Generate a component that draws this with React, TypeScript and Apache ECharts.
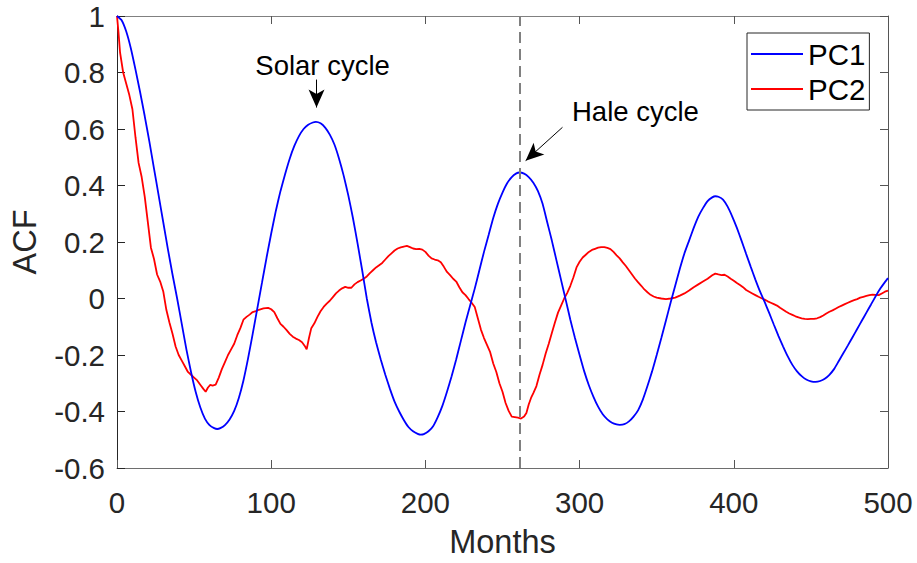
import React, { useEffect, useRef } from "react";
import * as echarts from "echarts";

const pc1Months = [
  0, 3, 6, 9, 12, 15, 18, 21, 24, 27, 30, 33, 36, 39, 42, 45, 48, 51, 54, 57, 60, 63, 65, 67, 70,
  73, 76, 79, 82, 85, 88, 91, 94, 97, 100, 103, 106, 109, 112, 115, 118, 121, 124, 127, 129, 132,
  135, 138, 141, 144, 147, 150, 153, 156, 159, 162, 165, 168, 171, 174, 177, 180, 183, 186, 189,
  192, 195, 197, 199, 202, 205, 208, 211, 214, 217, 220, 223, 226, 229, 232, 235, 238, 241, 244,
  247, 250, 253, 256, 259, 261, 264, 267, 270, 273, 276, 279, 282, 285, 288, 291, 294, 297, 300,
  303, 306, 309, 312, 315, 318, 321, 324, 326, 329, 332, 335, 338, 341, 344, 347, 350, 353, 356,
  359, 362, 365, 368, 371, 374, 377, 380, 383, 386, 388, 390, 393, 396, 399, 402, 405, 408, 411,
  414, 417, 420, 423, 426, 429, 432, 435, 438, 441, 444, 447, 450, 453, 456, 459, 462, 465, 468,
  471, 474, 477, 480, 483, 486, 489, 492, 495, 498, 500,
];
const pc1Values = [
  1.0, 0.985, 0.945, 0.885, 0.81, 0.73, 0.645, 0.555, 0.46, 0.365, 0.27, 0.175, 0.085, 0.0, -0.09,
  -0.18, -0.26, -0.33, -0.385, -0.425, -0.448, -0.459, -0.462, -0.459, -0.448, -0.428, -0.398,
  -0.352, -0.29, -0.212, -0.125, -0.035, 0.055, 0.145, 0.23, 0.31, 0.38, 0.44, 0.495, 0.54, 0.575,
  0.6, 0.615, 0.623, 0.625, 0.62, 0.605, 0.58, 0.545, 0.495, 0.435, 0.365, 0.285, 0.195, 0.1, 0.0,
  -0.085, -0.155, -0.215, -0.27, -0.32, -0.365, -0.4, -0.43, -0.455, -0.47, -0.479, -0.482,
  -0.48, -0.47, -0.452, -0.42, -0.38, -0.33, -0.275, -0.215, -0.15, -0.085, -0.025, 0.035, 0.1,
  0.165, 0.225, 0.285, 0.335, 0.375, 0.408, 0.43, 0.443, 0.446, 0.442, 0.43, 0.41, 0.38, 0.335,
  0.27, 0.205, 0.135, 0.065, -0.005, -0.075, -0.14, -0.2, -0.258, -0.307, -0.348, -0.383, -0.41,
  -0.428, -0.44, -0.446, -0.447, -0.445, -0.435, -0.418, -0.395, -0.358, -0.31, -0.258, -0.2,
  -0.14, -0.078, -0.015, 0.045, 0.105, 0.16, 0.205, 0.25, 0.29, 0.32, 0.345, 0.358, 0.362, 0.36,
  0.35, 0.325, 0.29, 0.25, 0.205, 0.158, 0.112, 0.067, 0.025, -0.012, -0.052, -0.093, -0.133,
  -0.17, -0.205, -0.235, -0.258, -0.275, -0.287, -0.293, -0.295, -0.292, -0.284, -0.27, -0.25,
  -0.222, -0.194, -0.166, -0.137, -0.108, -0.079, -0.05, -0.021, 0.008, 0.035, 0.058, 0.072,
];

const pc2Months = [
  0, 1, 2, 4, 6, 8, 10, 12, 14, 16, 18, 20, 22, 24, 26, 28, 30, 32, 34, 36, 38, 40, 42, 44, 46, 48,
  50, 52, 54, 56, 57.5, 59, 60.5, 62, 64, 66, 68, 70, 72, 74, 76, 78, 80, 82, 84, 86, 88, 90, 92, 95,
  98, 100, 102, 104, 106, 108, 110, 112, 114, 116, 118, 120, 122, 123, 124.5, 126, 128, 130, 132,
  134, 136, 138, 140, 142, 144, 146, 148, 150, 152, 154, 156, 158, 160, 162, 164, 166, 168, 170,
  172, 174, 176, 178, 180, 182, 184, 186, 188, 190, 192, 194, 196, 198, 200, 202, 204, 206, 208,
  210, 212, 214, 216, 218, 220, 222, 224, 226, 228, 230, 232, 234, 236, 238, 240, 242, 244, 246,
  248, 250, 252, 254, 256, 258, 260, 262, 264, 265.5, 267, 268.5, 270, 272, 274, 276, 278, 280,
  282, 284, 286, 288, 290, 292, 294, 296, 298, 300, 302, 304, 306, 308, 310, 312, 314, 316, 318,
  320, 322, 324, 326, 328, 330, 332, 334, 336, 338, 340, 342, 344, 346, 348, 350, 353, 356, 359,
  362, 365, 368, 371, 374, 377, 380, 383, 386, 388, 390, 392, 394, 396, 398, 400, 402, 404, 406,
  408, 410, 412, 414, 416, 418, 420, 422, 424, 426, 428, 430, 432, 434, 436, 438, 440, 442, 444,
  446, 448, 450, 452, 454, 456, 458, 460, 462, 464, 466, 468, 470, 472, 474, 476, 478, 480, 482,
  484, 486, 488, 490, 492, 494, 496, 498, 500,
];
const pc2Values = [
  1.0, 0.94, 0.87, 0.8, 0.76, 0.72, 0.67, 0.57, 0.48, 0.43, 0.36, 0.27, 0.18, 0.14, 0.085, 0.06,
  0.025, -0.04, -0.085, -0.125, -0.17, -0.2, -0.22, -0.24, -0.26, -0.27, -0.28, -0.29, -0.305,
  -0.32, -0.33, -0.315, -0.306, -0.308, -0.305, -0.28, -0.25, -0.225, -0.2, -0.18, -0.16, -0.13,
  -0.105, -0.075, -0.065, -0.057, -0.048, -0.045, -0.04, -0.035, -0.033, -0.038, -0.048, -0.07,
  -0.09, -0.1, -0.112, -0.125, -0.135, -0.142, -0.147, -0.155, -0.17, -0.18, -0.14, -0.105,
  -0.088, -0.065, -0.045, -0.03, -0.018, -0.008, 0.005, 0.018, 0.028, 0.036, 0.041, 0.038, 0.038,
  0.05, 0.058, 0.064, 0.07, 0.078, 0.09, 0.1, 0.11, 0.118, 0.126, 0.138, 0.15, 0.16, 0.17, 0.177,
  0.181, 0.184, 0.186, 0.182, 0.177, 0.175, 0.176, 0.173, 0.165, 0.152, 0.142, 0.138, 0.135,
  0.128, 0.112, 0.094, 0.083, 0.07, 0.06, 0.04, 0.022, 0.012, -0.002, -0.015, -0.03, -0.07, -0.11,
  -0.14, -0.165, -0.19, -0.23, -0.26, -0.3, -0.33, -0.37, -0.398, -0.418, -0.42, -0.422, -0.425,
  -0.418, -0.405, -0.375, -0.352, -0.335, -0.31, -0.27, -0.235, -0.195, -0.16, -0.122, -0.085,
  -0.05, -0.025, 0.0, 0.02, 0.045, 0.075, 0.11, 0.13, 0.145, 0.155, 0.165, 0.172, 0.176, 0.18,
  0.182, 0.182, 0.179, 0.175, 0.165, 0.153, 0.142, 0.128, 0.115, 0.1, 0.085, 0.07, 0.057, 0.045,
  0.032, 0.022, 0.013, 0.007, 0.003, 0.0, -0.002, 0.0, 0.003, 0.01, 0.018, 0.028, 0.04, 0.05,
  0.06, 0.07, 0.082, 0.088, 0.085, 0.083, 0.084, 0.078, 0.07, 0.063, 0.055, 0.048, 0.04, 0.03,
  0.024, 0.018, 0.012, 0.006, 0.001, -0.004, -0.01, -0.015, -0.02, -0.025, -0.033, -0.04, -0.047,
  -0.053, -0.058, -0.063, -0.067, -0.07, -0.072, -0.073, -0.072, -0.072, -0.07, -0.066, -0.06,
  -0.053, -0.047, -0.042, -0.036, -0.03, -0.025, -0.02, -0.015, -0.01, -0.006, -0.002, 0.003,
  0.006, 0.009, 0.012, 0.014, 0.013, 0.012, 0.018, 0.024, 0.028,
];

const seriesNames = ["PC1", "PC2"];
const xRange = { min: 0, max: 500, interval: 100 };
const yRange = { min: -0.6, max: 1, interval: 0.2 };
const haleLag = 261;
const annotationLabels = ["Solar cycle", "Hale cycle"];

const FONT = '"Liberation Sans", Arial, Helvetica, sans-serif';

function zip(xs: number[], ys: number[]) {
  return xs.map((x, i) => [x, ys[i]]);
}

export default function App() {
  const ref = useRef<HTMLDivElement>(null);

  useEffect(() => {
    if (!ref.current) return;
    const chart = echarts.init(ref.current, undefined, { renderer: "svg" });
    const axisDark = "#262626";
    const boxGray = "#808080";

    const option: any = {
      animation: false,
      backgroundColor: "#fff",
      grid: { left: 117, right: 29, top: 16, bottom: 95 },
      legend: {
        orient: "vertical",
        left: 747,
        top: 33,
        padding: [6, 4, 6, 4],
        itemGap: 5,
        itemWidth: 52,
        itemHeight: 2,
        icon: "rect",
        borderColor: axisDark,
        borderWidth: 1,
        backgroundColor: "#fff",
        data: seriesNames,
        textStyle: { fontSize: 29.5, color: "#000", fontFamily: FONT, lineHeight: 30 },
      },
      xAxis: [
        {
          type: "value",
          ...xRange,
          name: "Months",
          nameLocation: "middle",
          nameGap: 57,
          nameTextStyle: { fontSize: 32.5, color: axisDark, fontFamily: FONT },
          axisLine: { show: true, onZero: false, lineStyle: { color: "#6e6e6e", width: 1 } },
          axisTick: { show: true, inside: true, length: 8, lineStyle: { color: "#555" } },
          axisLabel: { fontSize: 29.5, color: axisDark, fontFamily: FONT, margin: 19 },
          splitLine: { show: false },
        },
        {
          type: "value",
          ...xRange,
          position: "top",
          axisLine: { show: true, onZero: false, lineStyle: { color: boxGray, width: 1 } },
          axisTick: { show: true, inside: true, length: 8, lineStyle: { color: "#555" } },
          axisLabel: { show: false },
          splitLine: { show: false },
        },
      ],
      yAxis: [
        {
          type: "value",
          ...yRange,
          name: "ACF",
          nameLocation: "middle",
          nameGap: 76,
          nameTextStyle: { fontSize: 32.5, color: axisDark, fontFamily: FONT },
          axisLine: { show: true, onZero: false, lineStyle: { color: axisDark, width: 1 } },
          axisTick: { show: true, inside: true, length: 8, lineStyle: { color: axisDark } },
          axisLabel: { fontSize: 29.5, color: axisDark, fontFamily: FONT, margin: 12 },
          splitLine: { show: false },
        },
        {
          type: "value",
          ...yRange,
          position: "right",
          axisLine: { show: true, onZero: false, lineStyle: { color: "#555", width: 1 } },
          axisTick: { show: true, inside: true, length: 8, lineStyle: { color: "#555" } },
          axisLabel: { show: false },
          splitLine: { show: false },
        },
      ],
      series: [
        {
          name: seriesNames[0],
          type: "line",
          data: zip(pc1Months, pc1Values),
          symbol: "none",
          smooth: 0.15,
          lineStyle: { color: "#0000ff", width: 1.8 },
          itemStyle: { color: "#0000ff" },
          z: 3,
          markLine: {
            silent: true,
            symbol: ["none", "arrow"],
            symbolSize: [12, 18],
            label: { show: false },
            lineStyle: { color: "#000", width: 1, type: "solid" },
            itemStyle: { color: "#000" },
            emphasis: { disabled: true },
            data: [
              [{ coord: [129.4, 0.775] }, { coord: [129.4, 0.676] }],
              [{ coord: [288.9, 0.606] }, { coord: [265.0, 0.488] }],
            ],
          },
          markPoint: {
            silent: true,
            symbol: "circle",
            symbolSize: 0,
            itemStyle: { color: "rgba(0,0,0,0)" },
            label: {
              show: true,
              position: "inside",
              formatter: "{b}",
              color: "#000",
              fontSize: 27.5,
              fontFamily: FONT,
            },
            data: [
              { name: annotationLabels[0], coord: [133.3, 0.826] },
              { name: annotationLabels[1], coord: [336.2, 0.663] },
            ],
          },
        },
        {
          name: seriesNames[1],
          type: "line",
          data: zip(pc2Months, pc2Values),
          symbol: "none",
          lineStyle: { color: "#ff0000", width: 1.8 },
          itemStyle: { color: "#ff0000" },
          z: 2,
          markLine: {
            silent: true,
            symbol: "none",
            label: { show: false },
            lineStyle: { color: "#808080", width: 2, type: [11, 6] },
            emphasis: { disabled: true },
            data: [{ xAxis: haleLag }],
          },
        },
      ],
    };
    chart.setOption(option);
    return () => chart.dispose();
  }, []);

  return (
    <div
      ref={ref}
      style={{ position: "fixed", left: 0, top: 0, width: 917, height: 563, background: "#fff" }}
    />
  );
}
